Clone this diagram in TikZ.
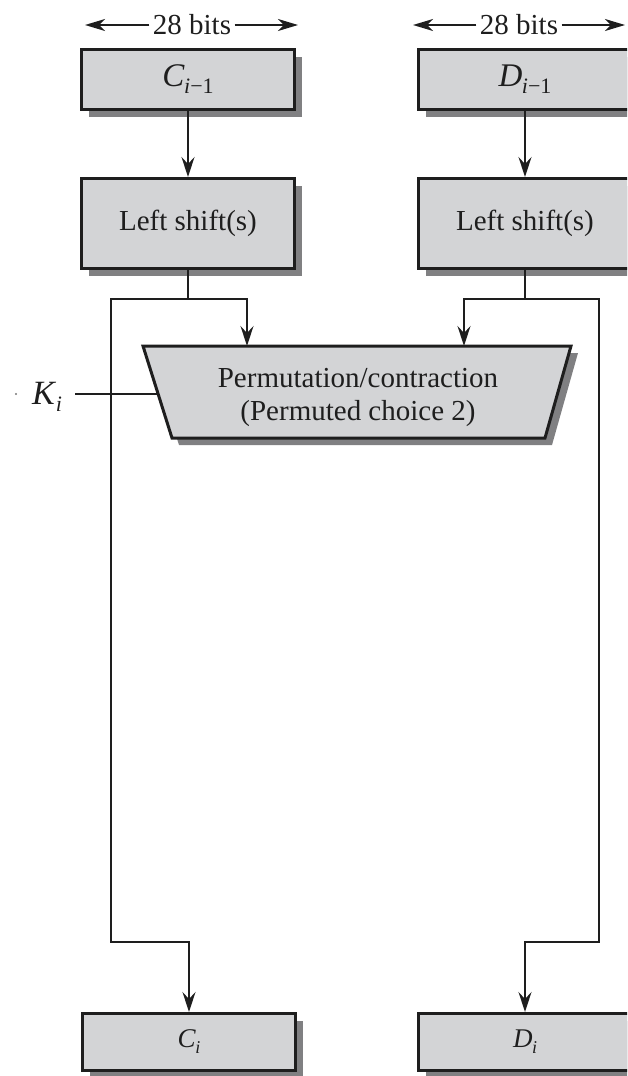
\documentclass[tikz,border=0pt]{standalone}
\usepackage{fontspec}
\setmainfont{Liberation Serif}
\usetikzlibrary{arrows.meta,shadows}

\definecolor{boxgray}{RGB}{211,212,214}
\definecolor{shadegray}{RGB}{128,128,130}
\definecolor{ink}{RGB}{30,30,30}

% symbol with a lowered subscript, at a given size
\newcommand\subsym[6]{{\fontsize{#3}{#3}\selectfont\textit{#1}}\kern-0.5pt\raisebox{-#5pt}{\fontsize{#4}{#4}\selectfont #2}}

\begin{document}
\begin{tikzpicture}[x=1pt,y=-1pt,
  every node/.style={font=\fontsize{29}{33}\selectfont, text=ink},
  keybox/.style={draw=ink, line width=3pt, fill=boxgray,
    minimum width=213pt, minimum height=#1, inner sep=0pt,
    drop shadow={shadow xshift=7pt, shadow yshift=-7pt, fill=shadegray, opacity=1}},
  keybox/.default=60pt,
  conn/.style={draw=ink, line width=1.7pt},
  flow/.style={conn, -{Stealth[length=20pt, width=13pt, inset=7pt]}},
  span/.style={conn, -{Stealth[length=20pt, width=12pt, inset=6pt]}}]

\useasboundingbox (0,0) rectangle (627,1076);
\clip (0,0) rectangle (627,1076);

% width labels
\node (wC) at (192,25) {28 bits};
\coordinate (wCl) at (85,25);
\coordinate (wCr) at (298,25);
\draw[span] (wC.west) -- (wCl);
\draw[span] (wC.east) -- (wCr);

\node (wD) at (519,25) {28 bits};
\coordinate (wDl) at (413,25);
\coordinate (wDr) at (625,25);
\draw[span] (wD.west) -- (wDl);
\draw[span] (wD.east) -- (wDr);

% input halves
\node[keybox=60pt] (Cin) at (188,79.5) {\subsym{C}{\textit{i}−1}{33}{22}{7}{}};
\node[keybox=60pt] (Din) at (525,79.5) {\subsym{D}{\textit{i}−1}{33}{22}{7}{}};

% shift stages
\node[keybox=90pt] (LSC) at (188,223.5) {Left shift(s)};
\node[keybox=90pt] (LSD) at (525,223.5) {Left shift(s)};

\draw[flow] (Cin.south) -- (LSC.south |- LSC.north);
\draw[flow] (Din.south) -- (LSD.south |- LSD.north);

% permuted choice 2 block
\coordinate (t1) at (143,346);
\coordinate (t2) at (571,346);
\coordinate (t3) at (545,438);
\coordinate (t4) at (172,438);
\fill[shadegray] ([shift={(7,7)}]t1) -- ([shift={(7,7)}]t2) -- ([shift={(7,7)}]t3) -- ([shift={(7,7)}]t4) -- cycle;
\filldraw[fill=boxgray, draw=ink, line width=3pt, line join=miter] (t1) -- (t2) -- (t3) -- (t4) -- cycle;
\node[align=center] (pc2) at (358,397) {Permutation/contraction\\(Permuted choice 2)};

\coordinate (inL) at (247,346);
\coordinate (inR) at (464,346);
\coordinate (kin) at (158,394);

% split rows
\coordinate (rowA) at (0,299);
\coordinate (rowB) at (0,942);
\coordinate (outL) at (111,942);
\coordinate (outR) at (599,942);

% output halves
\node[keybox=57pt] (Cout) at (189,1042) {\subsym{C}{\textit{i}}{27}{18}{6}{}};
\node[keybox=57pt] (Dout) at (525,1042) {\subsym{D}{\textit{i}}{27}{18}{6}{}};

% left branch
\draw[flow] (LSC.south) -- (LSC.south |- rowA) -| (inL);
\draw[flow] (LSC.south |- rowA) -| (outL) -| (Cout.north);

% right branch
\draw[flow] (LSD.south) -- (LSD.south |- rowA) -| (inR);
\draw[flow] (LSD.south |- rowA) -| (outR) -| (Dout.north);

% subkey output
\node[inner xsep=13pt] (Ki) at (47,397) {\subsym{K}{\textit{i}}{34}{22}{7}{}};
\draw[conn] (Ki.east |- kin) -- (kin);
\fill[ink!60] (16,394) circle (1.1);

\end{tikzpicture}
\end{document}
